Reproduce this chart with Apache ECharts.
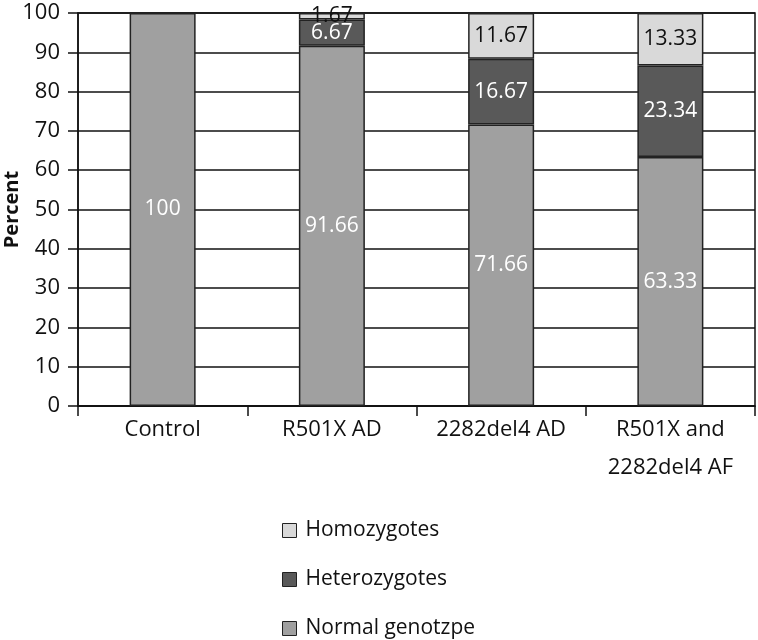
<!DOCTYPE html>
<html>
<head>
<meta charset="utf-8">
<script src="https://cdn.jsdelivr.net/npm/echarts@6/dist/echarts.min.js"></script>
<style>
  html, body { margin: 0; padding: 0; background: #fff; }
  #chart { width: 758px; height: 640px; }
</style>
</head>
<body>
<div id="chart"></div>
<script>
const categories = ['Control', 'R501X AD', '2282del4 AD', 'R501X and\n2282del4 AF']
const normalVals = [100, 91.66, 71.66, 63.33]
const heteroVals = [0, 6.67, 16.67, 23.34]
const homoVals = [0, 1.67, 11.67, 13.33]
const seriesNames = ['Normal genotzpe', 'Heterozygotes', 'Homozygotes']

const font = 'Open Sans'
const chart = echarts.init(document.getElementById('chart'))

function makeSeries (name, data, color, labelColor) {
  return {
    name: name,
    type: 'bar',
    stack: 'total',
    barWidth: '39%',
    data: data,
    itemStyle: { color: color, borderColor: '#222', borderWidth: 1.5 },
    label: {
      show: true,
      position: 'inside',
      color: labelColor,
      fontFamily: font,
      fontSize: 21,
      formatter: p => (p.value ? String(p.value) : '')
    }
  }
}

chart.setOption({
  animation: false,
  grid: {
    left: 78, right: 3, top: 13, bottom: 234,
    outerBoundsMode: 'none',
    containLabel: false,
    show: true, borderColor: '#111', borderWidth: 1.5
  },
  legend: {
    orient: 'vertical',
    left: 277,
    top: 515,
    height: 140,
    itemWidth: 14,
    itemHeight: 14,
    itemGap: 28,
    icon: 'rect',
    data: ['Homozygotes', 'Heterozygotes', 'Normal genotzpe'],
    textStyle: { fontFamily: font, fontSize: 21, color: '#111', padding: [0, 0, 0, 4] },
    itemStyle: { borderColor: '#222', borderWidth: 1 }
  },
  xAxis: {
    type: 'category',
    data: categories,
    axisLine: { lineStyle: { color: '#111', width: 1.5 } },
    axisTick: { show: true, length: 10, lineStyle: { color: '#111', width: 1.5 } },
    axisLabel: { fontFamily: font, fontSize: 22, color: '#111', margin: 5, lineHeight: 38 }
  },
  yAxis: {
    type: 'value',
    min: 0,
    max: 100,
    interval: 10,
    name: 'Percent',
    nameLocation: 'middle',
    nameRotate: 90,
    nameGap: 56,
    nameMoveOverlap: false,
    nameTextStyle: { fontFamily: font, fontSize: 20, fontWeight: 'bold', color: '#111' },
    axisLine: { show: true, lineStyle: { color: '#111', width: 1.5 } },
    axisTick: { show: true, length: 10, lineStyle: { color: '#111', width: 1.5 } },
    axisLabel: { fontFamily: font, fontSize: 22, color: '#111', margin: 18 },
    splitLine: { lineStyle: { color: '#111', width: 1.5 } }
  },
  series: [
    makeSeries(seriesNames[0], normalVals, '#a0a0a0', '#fff'),
    makeSeries(seriesNames[1], heteroVals, '#595959', '#fff'),
    makeSeries(seriesNames[2], homoVals, '#d9d9d9', '#111')
  ]
})
</script>
</body>
</html>
